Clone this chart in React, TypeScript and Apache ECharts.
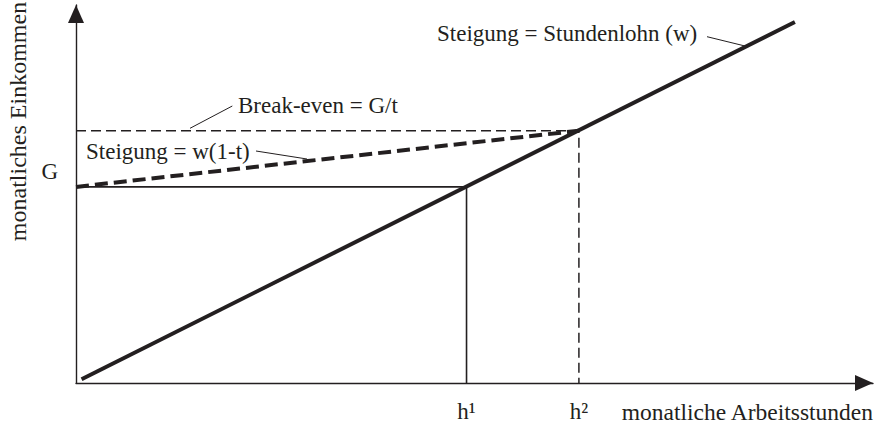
import React, { useEffect, useRef } from 'react';
import * as echarts from 'echarts';

const FONT = "'Liberation Serif', 'Times New Roman', Times, serif";
const INK = '#231f20';

// Axis ranges (abstract units: hours / income)
const xRange = [0, 200];
const yRange = [0, 400];

// Tick labels on the axes
const xTickValues = [98, 126.2];
const xTickLabels = ['h¹', 'h²'];
const yTickValues = [207.5];
const yTickLabels = ['G'];

// Series values
const wageLine = [[1.4, 4], [180.4, 382]];
const netLine = [[0, 207.5], [126.2, 267]];
const h1Guide = [[0, 207.5], [98, 207.5], [98, 0]];
const breakEvenGuide = [[0, 267], [126.2, 267], [126.2, 0]];

// Texts
const xAxisName = 'monatliche Arbeitsstunden';
const yAxisName = 'monatliches Einkommen';
const annotationTexts = ['Steigung = Stundenlohn (w)', 'Break-even = G/t', 'Steigung = w(1-t)'];

export default function App() {
  const ref = useRef<HTMLDivElement>(null);
  useEffect(() => {
    if (!ref.current) return;
    const chart = echarts.init(ref.current, null, { renderer: 'svg' });
    const textStyle = { fontFamily: FONT, fontSize: 23, color: INK };
    const arrowLine = {
      show: true,
      symbol: ['none', 'triangle'],
      symbolSize: [16, 18],
      symbolOffset: [0, -9],
      lineStyle: { color: INK, width: 1.4 },
    };
    chart.setOption({
      animation: false,
      backgroundColor: '#ffffff',
      grid: { left: 76, top: 5, right: 3, bottom: 41 },
      xAxis: {
        type: 'value',
        min: xRange[0],
        max: xRange[1],
        axisLine: arrowLine,
        axisTick: { show: false },
        splitLine: { show: false },
        axisLabel: {
          customValues: xTickValues,
          formatter: (v: number) => {
            const i = xTickValues.findIndex((t) => Math.abs(t - v) < 1e-6);
            return i >= 0 ? xTickLabels[i] : '';
          },
          margin: 17,
          lineHeight: 23,
          ...textStyle,
        },
        name: xAxisName,
        nameLocation: 'end',
        nameGap: 0,
        nameTextStyle: {
          ...textStyle,
          fontSize: 23.5,
          align: 'right',
          verticalAlign: 'top',
          lineHeight: 23,
          padding: [17, 0, 0, 0],
        },
      },
      yAxis: {
        type: 'value',
        min: yRange[0],
        max: yRange[1],
        axisLine: arrowLine,
        axisTick: { show: false },
        splitLine: { show: false },
        axisLabel: {
          customValues: yTickValues,
          formatter: (v: number) => {
            const i = yTickValues.findIndex((t) => Math.abs(t - v) < 1e-6);
            return i >= 0 ? yTickLabels[i] : '';
          },
          margin: 18,
          verticalAlign: 'bottom',
          lineHeight: 30,
          ...textStyle,
        },
      },
      series: [
        {
          type: 'line',
          data: h1Guide,
          symbol: 'none',
          silent: true,
          lineStyle: { color: INK, width: 1.6, type: 'solid' },
          z: 2,
        },
        {
          type: 'line',
          data: breakEvenGuide,
          symbol: 'none',
          silent: true,
          lineStyle: { color: INK, width: 1.5, type: [10, 5] },
          z: 2,
        },
        {
          type: 'line',
          data: netLine,
          symbol: 'none',
          silent: true,
          lineStyle: { color: INK, width: 4, type: [13, 6] },
          z: 3,
        },
        {
          type: 'line',
          data: wageLine,
          symbol: 'none',
          silent: true,
          lineStyle: { color: INK, width: 4, type: 'solid' },
          z: 4,
        },
      ],
      graphic: [
        {
          type: 'text',
          x: 17.5,
          y: 121.5,
          rotation: Math.PI / 2,
          silent: true,
          style: { text: yAxisName, align: 'center', verticalAlign: 'middle', fontFamily: FONT, fontSize: 24, fill: INK },
        },
        {
          type: 'text',
          x: 437,
          y: 33.7,
          silent: true,
          style: { text: annotationTexts[0], align: 'left', verticalAlign: 'middle', fontFamily: FONT, fontSize: 23, fill: INK },
        },
        {
          type: 'text',
          x: 238,
          y: 105.5,
          silent: true,
          style: { text: annotationTexts[1], align: 'left', verticalAlign: 'middle', fontFamily: FONT, fontSize: 23, fill: INK },
        },
        {
          type: 'text',
          x: 86,
          y: 151.5,
          silent: true,
          style: { text: annotationTexts[2], align: 'left', verticalAlign: 'middle', fontFamily: FONT, fontSize: 23, fill: INK },
        },
        { type: 'line', silent: true, shape: { x1: 707, y1: 36.7, x2: 745, y2: 46 }, style: { stroke: INK, lineWidth: 1 } },
        { type: 'line', silent: true, shape: { x1: 190, y1: 128.3, x2: 232.3, y2: 106 }, style: { stroke: INK, lineWidth: 1 } },
        { type: 'line', silent: true, shape: { x1: 256, y1: 151, x2: 307, y2: 159 }, style: { stroke: INK, lineWidth: 1 } },
      ],
    });
    return () => chart.dispose();
  }, []);
  return <div ref={ref} style={{ position: 'absolute', left: 0, top: 0, width: 876, height: 424 }} />;
}
